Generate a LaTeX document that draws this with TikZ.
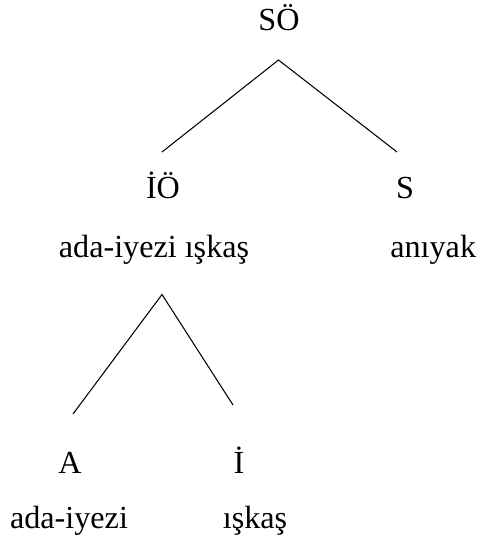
\documentclass[tikz,border=0pt]{standalone}
\usepackage{fontspec}
\setmainfont{Liberation Serif}
\begin{document}
\begin{tikzpicture}[font=\fontsize{18.3}{21}\selectfont, x=1cm, y=1cm,
	label/.style={anchor=base, inner sep=0pt},
	branch/.style={line width=0.6pt}]
	\useasboundingbox (0,0) rectangle (9.52,-10.82);
	% upper level
	\node[label] (so) at (5.58,-0.60) {SÖ};
	\node[label] (io) at (3.26,-3.96) {İÖ};
	\node[label] (s) at (8.10,-3.96) {S};
	\node[label] (iogloss) at (3.08,-5.14) {ada-iyezi ışkaş};
	\node[label, anchor=base west] (sgloss) at (7.80,-5.14) {anıyak};
	\coordinate (top1) at (5.57,-1.20);
	\coordinate (left1) at (3.24,-3.04);
	\coordinate (right1) at (7.94,-3.04);
	\draw[branch] (left1) -- (top1) -- (right1);
	% lower level
	\node[label] (a) at (1.40,-9.46) {A};
	\node[label] (i) at (4.78,-9.46) {İ};
	\node[label] (agloss) at (1.38,-10.56) {ada-iyezi};
	\node[label] (igloss) at (5.10,-10.56) {ışkaş};
	\coordinate (top2) at (3.24,-5.89);
	\coordinate (left2) at (1.46,-8.28);
	\coordinate (right2) at (4.66,-8.10);
	\draw[branch] (left2) -- (top2) -- (right2);
\end{tikzpicture}
\end{document}
